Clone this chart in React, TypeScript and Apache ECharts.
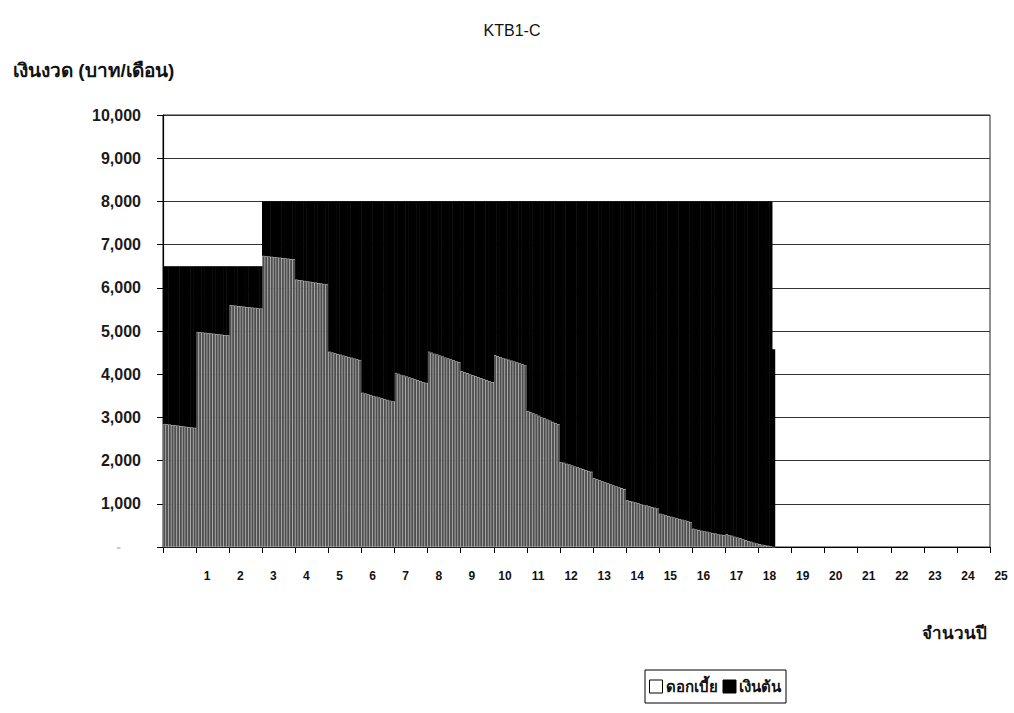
import React, { useEffect, useRef } from "react";
import * as echarts from "echarts";

// Monthly instalment chart of loan KTB1-C: each bar is one month,
// split into interest (bottom, grey) and principal (top, black).

const TITLE = "KTB1-C";
const Y_TITLE = "เงินงวด (บาท/เดือน)";
const X_TITLE = "จำนวนปี";
const SERIES_INTEREST = "ดอกเบี้ย";
const SERIES_PRINCIPAL = "เงินต้น";

const TOTAL_MONTHS = 300; // 25-year axis
const MONTHS = Array.from({ length: TOTAL_MONTHS }, (_, i) => String(i + 1));

// Instalment levels (baht per month) by month range
const PAYMENT_STEPS = [
  { from: 1, to: 36, amount: 6500 },
  { from: 37, to: 221, amount: 8000 },
  { from: 222, to: 222, amount: 4580 },
];

// Interest part of each instalment, one row per year
const INTEREST_Y01 = [2850, 2842, 2834, 2825, 2817, 2809, 2801, 2793, 2784, 2776, 2768, 2760];
const INTEREST_Y02 = [4980, 4973, 4965, 4958, 4951, 4944, 4936, 4929, 4922, 4915, 4907, 4900];
const INTEREST_Y03 = [5600, 5593, 5585, 5578, 5571, 5564, 5556, 5549, 5542, 5535, 5527, 5520];
const INTEREST_Y04 = [6740, 6733, 6725, 6718, 6711, 6704, 6696, 6689, 6682, 6675, 6667, 6660];
const INTEREST_Y05 = [6190, 6180, 6170, 6160, 6150, 6140, 6130, 6120, 6110, 6100, 6090, 6080];
const INTEREST_Y06 = [4520, 4503, 4485, 4468, 4451, 4434, 4416, 4399, 4382, 4365, 4347, 4330];
const INTEREST_Y07 = [3570, 3552, 3534, 3515, 3497, 3479, 3461, 3443, 3425, 3406, 3388, 3370];
const INTEREST_Y08 = [4030, 4009, 3988, 3967, 3946, 3925, 3905, 3884, 3863, 3842, 3821, 3800];
const INTEREST_Y09 = [4520, 4498, 4476, 4455, 4433, 4411, 4389, 4367, 4345, 4324, 4302, 4280];
const INTEREST_Y10 = [4070, 4047, 4025, 4002, 3979, 3956, 3934, 3911, 3888, 3865, 3843, 3820];
const INTEREST_Y11 = [4440, 4419, 4398, 4377, 4356, 4335, 4315, 4294, 4273, 4252, 4231, 4210];
const INTEREST_Y12 = [3150, 3122, 3094, 3065, 3037, 3009, 2981, 2953, 2925, 2896, 2868, 2840];
const INTEREST_Y13 = [1970, 1949, 1928, 1907, 1886, 1865, 1845, 1824, 1803, 1782, 1761, 1740];
const INTEREST_Y14 = [1590, 1567, 1545, 1522, 1499, 1476, 1454, 1431, 1408, 1385, 1363, 1340];
const INTEREST_Y15 = [1080, 1063, 1045, 1028, 1011, 994, 976, 959, 942, 925, 907, 890];
const INTEREST_Y16 = [770, 753, 735, 718, 701, 684, 666, 649, 632, 615, 597, 580];
const INTEREST_Y17 = [420, 406, 393, 379, 366, 352, 338, 325, 311, 297, 284, 270];
const INTEREST_Y18 = [300, 280, 260, 240, 220, 200, 180, 160, 140, 120, 100, 80];
const INTEREST_Y19 = [67, 54, 41, 28, 15, 4];

const INTEREST = [
  ...INTEREST_Y01, ...INTEREST_Y02, ...INTEREST_Y03, ...INTEREST_Y04,
  ...INTEREST_Y05, ...INTEREST_Y06, ...INTEREST_Y07, ...INTEREST_Y08,
  ...INTEREST_Y09, ...INTEREST_Y10, ...INTEREST_Y11, ...INTEREST_Y12,
  ...INTEREST_Y13, ...INTEREST_Y14, ...INTEREST_Y15, ...INTEREST_Y16,
  ...INTEREST_Y17, ...INTEREST_Y18, ...INTEREST_Y19,
];

const Y_MAX = 10000;
const Y_STEP = 1000;

function paymentFor(month: number): number {
  const step = PAYMENT_STEPS.find((s) => month >= s.from && month <= s.to);
  return step ? step.amount : 0;
}

const PRINCIPAL = INTEREST.map((v, i) => paymentFor(i + 1) - v);

const FONT = "'Liberation Sans', Arial, 'Noto Sans', sans-serif";

export default function App() {
  const ref = useRef<HTMLDivElement>(null);

  useEffect(() => {
    if (!ref.current) return;
    const chart = echarts.init(ref.current, null, { renderer: "svg" });
    chart.setOption({
      animation: false,
      backgroundColor: "#ffffff",
      textStyle: { fontFamily: FONT },
      title: [
        {
          text: TITLE,
          left: 507,
          top: 17,
          textAlign: "center",
          textStyle: { fontFamily: FONT, fontSize: 16, fontWeight: "normal", color: "#111" },
        },
        {
          text: Y_TITLE,
          left: 8,
          top: 56,
          textStyle: { fontFamily: FONT, fontSize: 19, fontWeight: "bold", color: "#111" },
        },
        {
          text: X_TITLE,
          right: 22,
          top: 620,
          textStyle: { fontFamily: FONT, fontSize: 17, fontWeight: "bold", color: "#111" },
        },
      ],
      legend: {
        data: [
          { name: SERIES_INTEREST, itemStyle: { color: "#ffffff", borderColor: "#000", borderWidth: 1 } },
          { name: SERIES_PRINCIPAL, itemStyle: { color: "#000000", borderColor: "#000", borderWidth: 1 } },
        ],
        icon: "rect",
        itemWidth: 13,
        itemHeight: 13,
        itemGap: 5,
        left: 645,
        top: 670,
        padding: [9, 5, 9, 4],
        borderColor: "#000",
        borderWidth: 1,
        textStyle: { fontFamily: FONT, fontSize: 15, fontWeight: "bold", color: "#111", padding: [0, 0, 0, -2] },
      },
      grid: {
        left: 163,
        right: 24,
        top: 115,
        bottom: 166,
        show: true,
        borderColor: "#222",
        borderWidth: 1,
        backgroundColor: "transparent",
      },
      xAxis: {
        type: "category",
        data: MONTHS,
        boundaryGap: true,
        axisLine: { lineStyle: { color: "#000", width: 1.2 } },
        axisTick: {
          show: true,
          length: 6,
          interval: (index: number) => index % 12 === 0,
          lineStyle: { color: "#000", width: 1 },
        },
        axisLabel: {
          interval: (index: number) => index % 12 === 11,
          formatter: (value: string) => String(Number(value) / 12),
          fontFamily: FONT,
          fontSize: 12,
          fontWeight: "bold",
          color: "#111",
          margin: 23,
          padding: [0, 0, 0, 25],
        },
        splitLine: { show: false },
      },
      yAxis: {
        type: "value",
        min: 0,
        max: Y_MAX,
        interval: Y_STEP,
        axisLine: { show: true, lineStyle: { color: "#000", width: 1.2 } },
        axisTick: { show: true, length: 6, lineStyle: { color: "#000" } },
        axisLabel: {
          formatter: (v: number) => (v === 0 ? "{z|-}" : v.toLocaleString("en-US")),
          fontFamily: FONT,
          fontSize: 16,
          fontWeight: "bold",
          color: "#1a1a1a",
          margin: 22,
          rich: {
            z: { color: "#c4c4c4", fontSize: 14, fontFamily: FONT, padding: [0, 20, 0, 0] },
          },
        },
        splitLine: { show: true, lineStyle: { color: "#333", width: 1 } },
      },
      series: [
        {
          name: SERIES_INTEREST,
          type: "bar",
          stack: "payment",
          barWidth: "118%",
          data: INTEREST,
          itemStyle: { color: "#4e4e4e", borderColor: "#ffffff", borderWidth: 0.35 },
        },
        {
          name: SERIES_PRINCIPAL,
          type: "bar",
          stack: "payment",
          barWidth: "118%",
          data: PRINCIPAL,
          itemStyle: { color: "#000000" },
        },
      ],
    });
    return () => chart.dispose();
  }, []);

  return (
    <div
      ref={ref}
      style={{ position: "fixed", left: 0, top: 0, width: 1014, height: 713 }}
    />
  );
}
